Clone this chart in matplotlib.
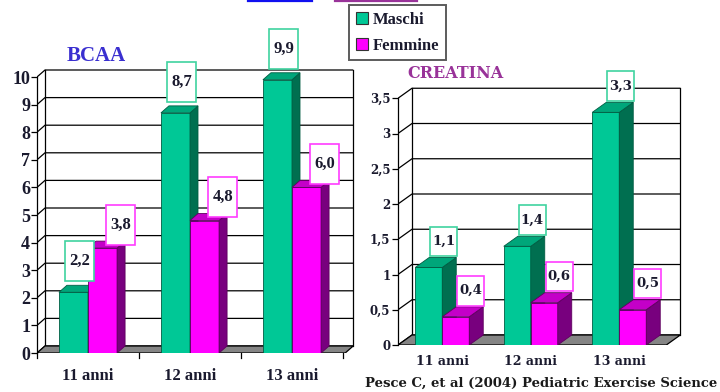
import matplotlib
matplotlib.use('Agg')
import matplotlib.pyplot as plt
from matplotlib.patches import Polygon, Rectangle, Patch
from matplotlib.lines import Line2D

# Data
categories = ['11 anni', '12 anni', '13 anni']
series_names = ['Maschi', 'Femmine']
bcaa_maschi = [2.2, 8.7, 9.9]
bcaa_femmine = [3.8, 4.8, 6.0]
creatina_maschi = [1.1, 1.4, 3.3]
creatina_femmine = [0.4, 0.6, 0.5]
bcaa_ticks = [0, 1, 2, 3, 4, 5, 6, 7, 8, 9, 10]
creatina_ticks = [0, 0.5, 1, 1.5, 2, 2.5, 3, 3.5]

SERIF = 'Liberation Serif'
SERIF2 = 'DejaVu Serif'
FRONT = ['#00C896', '#FF00FF']
SIDE = ['#006F50', '#78007E']
TOP = ['#00A67A', '#C400C8']
EDGE = ['#005C42', '#5E005E']
BOXC = ['#3FD3A0', '#FF3CFF']
TXT = '#1A1A2E'

W, H = 720, 392


def comma(v):
    return f'{v:g}'.replace('.', ',')


def comma1(v):
    return f'{v:.1f}'.replace('.', ',')


def draw_chart(ax, series, ticks, top, bar_w, dx, dy, x_right, family,
               tick_fs, xlab_fs, val_fs, box_h, box_shift, box_gap,
               ytick_len, xlab_pad, boundary_ticks):
    n = len(categories)
    x0 = -0.5
    ax.set_xlim(x0, x_right + 0.02)
    ax.set_ylim(0, top + dy + top * 0.01)

    # back wall, side wall connectors and gridlines
    for t in ticks:
        ax.plot([x0, x0 + dx, x_right], [t, t + dy, t + dy],
                color='black', lw=0.9, zorder=1, solid_capstyle='butt')
    ax.plot([x0 + dx, x0 + dx], [dy, top + dy], color='black', lw=0.9, zorder=1)
    ax.plot([x_right, x_right], [dy, top + dy], color='black', lw=0.9, zorder=1)

    # floor
    floor_right = x_right - dx
    ax.add_patch(Polygon([(x0, 0), (floor_right, 0), (x_right, dy), (x0 + dx, dy)],
                         closed=True, fc='#858585', ec='black', lw=0.9, zorder=1.5))

    # 3D bars with boxed value labels
    for s, vals in enumerate(series):
        xs = [i + (s - 0.5) * bar_w for i in range(n)]
        ax.bar(xs, vals, width=bar_w, color=FRONT[s], edgecolor=EDGE[s],
               lw=0.6, zorder=3 + s)
        for xc, v in zip(xs, vals):
            xl, xr = xc - bar_w / 2, xc + bar_w / 2
            ax.add_patch(Polygon([(xr, 0), (xr + dx, dy), (xr + dx, v + dy), (xr, v)],
                                 closed=True, fc=SIDE[s], ec=EDGE[s], lw=0.6,
                                 zorder=3 + s))
            ax.add_patch(Polygon([(xl, v), (xl + dx, v + dy), (xr + dx, v + dy), (xr, v)],
                                 closed=True, fc=TOP[s], ec=EDGE[s], lw=0.6,
                                 zorder=3 + s))
            bx = xl + box_shift[s]
            by = v + box_gap[s]
            ax.add_patch(Rectangle((bx, by), bar_w, box_h, fc='white',
                                   ec=BOXC[s], lw=1.2, zorder=6, clip_on=False))
            ax.text(bx + bar_w / 2, by + box_h / 2, comma1(v), ha='center',
                    va='center', fontsize=val_fs, fontweight='bold',
                    family=family, color=TXT, zorder=7, clip_on=False)

    # axes decoration
    for sp in ['top', 'right', 'bottom']:
        ax.spines[sp].set_visible(False)
    ax.spines['left'].set_bounds(0, top)
    ax.spines['left'].set_linewidth(0.9)
    ax.set_yticks(ticks)
    ax.set_yticklabels([comma(t) for t in ticks], fontsize=tick_fs,
                       fontweight='bold', family=family, color=TXT)
    ax.tick_params(axis='y', length=ytick_len, width=0.9, pad=1)
    ax.set_xticks(range(n))
    ax.set_xticklabels(categories, fontsize=xlab_fs, fontweight='bold',
                       family=family, color=TXT)
    ax.tick_params(axis='x', length=0, pad=xlab_pad)
    if boundary_ticks:
        for b in [x0 + k for k in range(n + 1)]:
            ax.plot([b, b], [0, -top * 0.018], color='black', lw=0.9,
                    clip_on=False, zorder=2)
    ax.patch.set_alpha(0)


fig = plt.figure(figsize=(W / 100, H / 100), dpi=100)
fig.patch.set_facecolor('white')

# BCAA panel
px_x, px_y = 102.0, 27.6
l_right = 2.6
ax1 = fig.add_axes([37 / W, (H - 353) / H,
                    (l_right + 0.52) * px_x / W, (10 + 7 / px_y + 0.1) * px_y / H])
draw_chart(ax1, [bcaa_maschi, bcaa_femmine], bcaa_ticks, 10, 0.285,
           8 / px_x, 7 / px_y, l_right, SERIF, 13, 12, 12, 1.45,
           [0.06, 0.18], [0.4, 0.12], 4, 11, True)

# CREATINA panel
rx, ry = 88.5, 70.5
r_right = 2.69
ax2 = fig.add_axes([398 / W, (H - 345) / H,
                    (r_right + 0.52) * rx / W, (3.5 + 10 / ry + 0.035) * ry / H])
draw_chart(ax2, [creatina_maschi, creatina_femmine], creatina_ticks, 3.5, 0.305,
           14 / rx, 10 / ry, r_right, SERIF2, 8.5, 9, 9.5, 0.42,
           [0.17, 0.17], [0.16, 0.16], 4.5, 7, False)

# panel titles
fig.text(96 / W, 1 - 56 / H, 'BCAA', ha='center', va='center', fontsize=15,
         fontweight='bold', family=SERIF, color='#3A2FD0')
fig.text(456 / W, 1 - 74 / H, 'CREATINA', ha='center', va='center', fontsize=11.5,
         fontweight='bold', family=SERIF2, color='#993399')

# legend
handles = [Patch(fc=FRONT[i], ec='#333333', lw=0.8) for i in range(2)]
leg = fig.legend(handles, series_names, loc='upper left',
                 bbox_to_anchor=(349 / W, 1 - 5 / H), frameon=True, fancybox=False,
                 prop={'family': SERIF, 'weight': 'bold', 'size': 12},
                 handlelength=0.75, handleheight=0.75, handletextpad=0.25,
                 borderpad=0.4, labelspacing=0.6, borderaxespad=0)
leg.get_frame().set_edgecolor('#333333')
leg.get_frame().set_linewidth(1.4)
for t in leg.get_texts():
    t.set_color(TXT)

# source note
fig.text(365 / W, 1 - 383 / H, 'Pesce C, et al (2004) Pediatric Exercise Science',
         ha='left', va='center', fontsize=9.5, fontweight='bold', family=SERIF2,
         color='#1A1A1A')

# heading underline remnants at the top edge
fig.add_artist(Line2D([248 / W, 312 / W], [1 - 1 / H, 1 - 1 / H], color='#1010F0', lw=1.6))
fig.add_artist(Line2D([335 / W, 417 / W], [1 - 1 / H, 1 - 1 / H], color='#993399', lw=1.6))

fig.savefig('out.png', dpi=100, facecolor='white')
